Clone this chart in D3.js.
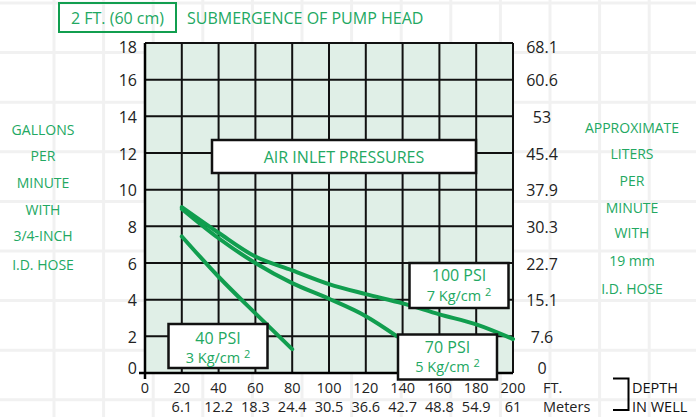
<!DOCTYPE html>
<html><head><meta charset="utf-8">
<script src="https://cdn.jsdelivr.net/npm/d3@7"></script>
<style>
html,body{margin:0;padding:0;background:#fff;}
svg text{font-family:"Open Sans","Noto Sans",sans-serif;}
</style></head>
<body><svg id="c" width="696" height="417"></svg>
<script>
// ---- data ----
const depthFt = [0,20,40,60,80,100,120,140,160,180,200];
const depthM = ["","6.1","12.2","18.3","24.4","30.5","36.6","42.7","48.8","54.9","61"];
const gpmTicks = [0,2,4,6,8,10,12,14,16,18];
const lpmTicks = ["0","7.6","15.1","22.7","30.3","37.9","45.4","53","60.6","68.1"];

const psi100Depth = [20,40,60,80,100,120,140,160,180,200];
const psi100Flow  = [9.05,7.65,6.35,5.6,4.85,4.3,3.8,3.2,2.65,1.85];
const psi70Depth  = [20,40,60,80,100,120,137];
const psi70Flow   = [8.95,7.35,6.0,4.9,4.05,3.1,2.0];
const psi40Depth  = [20,40,60,80];
const psi40Flow   = [7.45,5.25,3.25,1.3];

const leftTitle  = ["GALLONS","PER","MINUTE","WITH","3/4-INCH","I.D. HOSE"];
const rightTitle = ["APPROXIMATE","LITERS","PER","MINUTE","WITH","19 mm","I.D. HOSE"];

// ---- layout ----
const GREEN_T = "#22a862", GREEN_L = "#119e4f";
const svg = d3.select("#c");
const x = d3.scaleLinear().domain([0,200]).range([145,513]);
const y = d3.scaleLinear().domain([0,18]).range([373,43]);

// faint background grid
const bg = svg.append("g");
d3.range(0,15).forEach(k=>{
  bg.append("line").attr("x1",54+49.6*k).attr("x2",54+49.6*k).attr("y1",0).attr("y2",417)
    .attr("stroke","#f1f1f1").attr("stroke-width",3);
});
d3.range(0,9).forEach(k=>{
  bg.append("line").attr("y1",3+49.6*k).attr("y2",3+49.6*k).attr("x1",0).attr("x2",696)
    .attr("stroke","#f1f1f1").attr("stroke-width",3);
});

// plot fill
svg.append("rect").attr("x",x(0)).attr("y",y(18)).attr("width",x(200)-x(0)).attr("height",y(0)-y(18))
  .attr("fill","#e0efe7");

// grid
const grid = svg.append("g").attr("stroke","#111").attr("stroke-width",2);
depthFt.slice(1).forEach(d=>{
  grid.append("line").attr("x1",x(d)).attr("x2",x(d)).attr("y1",y(0)).attr("y2",y(18));
});
gpmTicks.slice(1).forEach(v=>{
  grid.append("line").attr("x1",x(0)).attr("x2",x(200)).attr("y1",y(v)).attr("y2",y(v));
});
// axes lines (extend past origin)
svg.append("line").attr("x1",x(0)-6).attr("x2",x(200)).attr("y1",y(0)).attr("y2",y(0)).attr("stroke","#000").attr("stroke-width",2.5);
svg.append("line").attr("x1",x(0)).attr("x2",x(0)).attr("y1",y(18)).attr("y2",y(0)+6).attr("stroke","#000").attr("stroke-width",2.5);

// left axis labels
const labOff = v => v===0 ? -5 : (v===18 ? 4 : 1);
svg.append("g").selectAll("text").data(gpmTicks).join("text")
  .attr("x",137).attr("y",d=>y(d)+labOff(d)).attr("dy","0.35em")
  .attr("text-anchor","end").attr("font-size",16).attr("fill","#222").text(d=>d);
// right axis labels
svg.append("g").selectAll("text").data(lpmTicks).join("text")
  .attr("x",542).attr("y",(d,i)=>y(gpmTicks[i])+labOff(gpmTicks[i])).attr("dy","0.35em")
  .attr("text-anchor","middle").attr("font-size",16).attr("fill","#222").text(d=>d);
// bottom labels
const ROW1 = 387.5, ROW2 = 406.5;
svg.append("g").selectAll("text").data(depthFt).join("text")
  .attr("x",d=>x(d)).attr("y",ROW1).attr("dy","0.35em")
  .attr("text-anchor","middle").attr("font-size",14.5).attr("fill","#222").text(d=>d);
svg.append("g").selectAll("text").data(depthM).join("text")
  .attr("x",(d,i)=>x(depthFt[i])).attr("y",ROW2).attr("dy","0.35em")
  .attr("text-anchor","middle").attr("font-size",14.5).attr("fill","#222").text(d=>d);
svg.append("text").attr("x",543).attr("y",ROW1).attr("dy","0.35em").attr("font-size",14.5).attr("fill","#222").text("FT.");
svg.append("text").attr("x",543).attr("y",ROW2).attr("dy","0.35em").attr("font-size",14.5).attr("fill","#222").text("Meters");
svg.append("path").attr("d","M613,378.5H628.5V410H613").attr("fill","none").attr("stroke","#000").attr("stroke-width",2);
svg.append("text").attr("x",632).attr("y",ROW1).attr("dy","0.35em").attr("font-size",14.5).attr("fill","#111").text("DEPTH");
svg.append("text").attr("x",632).attr("y",ROW2).attr("dy","0.35em").attr("font-size",14.5).attr("fill","#111").text("IN WELL");

// side titles
const lY = [130,156,183,210,236.5,265];
svg.append("g").selectAll("text").data(leftTitle).join("text")
  .attr("x",43).attr("y",(d,i)=>lY[i]).attr("dy","0.35em").attr("text-anchor","middle")
  .attr("font-size",14).attr("fill",GREEN_T).text(d=>d);
const rY = [128,154,181,208,233,261.5,289];
svg.append("g").selectAll("text").data(rightTitle).join("text")
  .attr("x",632).attr("y",(d,i)=>rY[i]).attr("dy","0.35em").attr("text-anchor","middle")
  .attr("font-size",14).attr("fill",GREEN_T).text(d=>d);

// header
svg.append("rect").attr("x",59).attr("y",3).attr("width",117).attr("height",29)
  .attr("fill","none").attr("stroke",GREEN_L).attr("stroke-width",2);
svg.append("text").attr("x",117.5).attr("y",24).attr("text-anchor","middle").attr("font-size",16)
  .attr("fill",GREEN_T).text("2 FT. (60 cm)");
svg.append("text").attr("x",187).attr("y",24).attr("font-size",16)
  .attr("fill",GREEN_T).text("SUBMERGENCE OF PUMP HEAD");

// curves
const line = d3.line().x(d=>x(d[0])).y(d=>y(d[1])).curve(d3.curveMonotoneX);
const series = [
  d3.zip(psi100Depth, psi100Flow),
  d3.zip(psi70Depth, psi70Flow),
  d3.zip(psi40Depth, psi40Flow)
];
svg.append("g").selectAll("path").data(series).join("path")
  .attr("d",line).attr("fill","none").attr("stroke",GREEN_L).attr("stroke-width",4)
  .attr("stroke-linecap","round");

// label boxes
function box(x0,y0,w,h){
  svg.append("rect").attr("x",x0).attr("y",y0).attr("width",w).attr("height",h)
    .attr("fill","#fff").attr("stroke","#111").attr("stroke-width",2.5);
}
box(212,140,264,33);
svg.append("text").attr("x",344).attr("y",157).attr("dy","0.35em").attr("text-anchor","middle")
  .attr("font-size",16).attr("fill",GREEN_T).text("AIR INLET PRESSURES");

function psiBox(x0,y0,w,h,title,sub,b1,b2){
  box(x0,y0,w,h);
  const cx = x0+w/2;
  svg.append("text").attr("x",cx).attr("y",b1).attr("text-anchor","middle")
    .attr("font-size",16).attr("fill",GREEN_T).text(title);
  const t = svg.append("text").attr("x",cx).attr("y",b2).attr("text-anchor","middle")
    .attr("font-size",14.5).attr("fill",GREEN_T);
  t.append("tspan").text(sub+" ");
  t.append("tspan").attr("font-size",11).attr("dy",-5).text("2");
}
psiBox(409.5,263,99,45,"100 PSI","7 Kg/cm",280.5,300.5);
psiBox(168.5,324,99,44,"40 PSI","3 Kg/cm",343.5,362.5);
psiBox(398,334.5,99,45,"70 PSI","5 Kg/cm",353,372);
</script></body></html>
